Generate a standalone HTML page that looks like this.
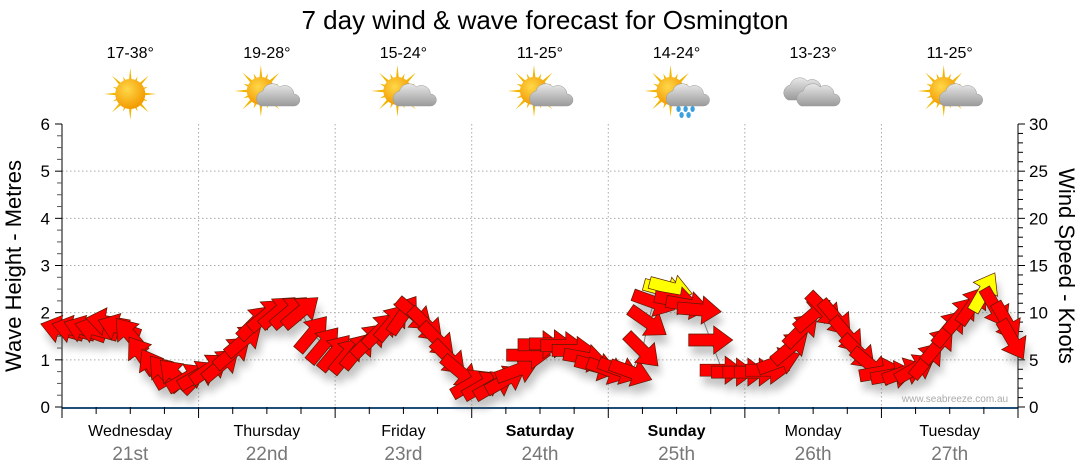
<!DOCTYPE html>
<html><head><meta charset="utf-8"><style>
html,body{margin:0;padding:0;background:#fff;}
svg{display:block;font-family:"Liberation Sans",sans-serif;}
</style></head><body>
<svg id="chart" width="1080" height="475" viewBox="0 0 1080 475">
<defs>
<radialGradient id="sunG" cx="40%" cy="35%" r="65%"><stop offset="0" stop-color="#ffd84a"/><stop offset="1" stop-color="#f39a00"/></radialGradient>
<linearGradient id="cloudG" x1="0" y1="0" x2="0" y2="1"><stop offset="0" stop-color="#e8e8e8"/><stop offset="1" stop-color="#9a9a9a"/></linearGradient>
<filter id="shadow" x="-50%" y="-50%" width="200%" height="200%"><feGaussianBlur stdDeviation="4"/></filter>
</defs>
<text x="545" y="29" text-anchor="middle" font-size="26" fill="#000">7 day wind &amp; wave forecast for Osmington</text>
<g id="grid"></g>
<g id="icons"></g>
<g id="axes"></g>
<g id="series"></g>
<text x="955" y="402" text-anchor="middle" font-size="10" fill="#aaa">www.seabreeze.com.au</text>
<text transform="translate(21,266) rotate(-90)" text-anchor="middle" font-size="22" fill="#000">Wave Height - Metres</text>
<text transform="translate(1059,266) rotate(90)" text-anchor="middle" font-size="22" fill="#000">Wind Speed - Knots</text>
</svg>
<script>
const days = ["Wednesday","Thursday","Friday","Saturday","Sunday","Monday","Tuesday"];
const dates = ["21st","22nd","23rd","24th","25th","26th","27th"];
const boldDays = [false,false,false,true,true,false,false];
const temps = ["17-38°","19-28°","15-24°","11-25°","14-24°","13-23°","11-25°"];
const weather = ["sun","suncloud","suncloud","suncloud","sunrain","cloud","suncloud"];
const waveTicks = [0,1,2,3,4,5,6];
const knotTicks = [0,5,10,15,20,25,30];
const hours = [0,2,4,6,8,10,12,14,16,18,20,22,24,26,28,30,32,34,36,38,40,42,44,46,48,50,52,54,56,58,60,62,64,66,68,70,72,74,76,78,80,82,84,86,88,90,92,94,96,98,100,102,103,104,106,107,108,110,112,114,116,118,120,122,124,126,128,130,132,134,136,138,140,142,144,146,148,150,152,154,156,158,160,162,164,166,167];
const speeds = [8.2,8.2,8.2,8.2,9.0,8.4,7.6,5.5,4.1,3.6,3.3,3.1,3.4,4.1,4.5,5.8,7.1,9.0,9.8,10.1,10.1,10.1,7.8,6.6,5.8,5.5,6.0,7.1,8.2,9.0,9.8,9.8,8.7,7.1,5.2,3.7,2.5,2.3,2.3,2.9,3.9,5.5,6.6,6.7,6.5,6.0,5.2,4.3,3.9,3.9,3.7,6.0,9.0,11.1,12.4,12.6,11.3,10.8,10.3,7.1,3.9,3.7,3.7,3.7,3.9,4.8,6.3,8.2,9.8,10.3,9.4,7.6,5.8,4.5,3.7,3.4,3.7,4.1,5.0,6.6,8.4,9.8,10.8,12.2,10.5,9.0,7.1];
const directions = [195,195,200,195,190,200,230,235,240,230,225,-30,-30,-35,-40,-40,-40,-45,-40,-40,-40,-40,-50,-50,-50,-50,-50,-45,-45,-50,-55,40,45,45,45,40,-30,-30,-30,-30,-20,0,0,0,0,0,10,15,20,20,20,45,35,20,15,15,10,10,5,0,0,0,0,0,0,-20,-40,-45,-40,45,50,50,45,40,-10,-10,-20,-30,-50,-50,-50,-50,-55,-60,60,60,60];

const NS='http://www.w3.org/2000/svg';
const X0=62,X1=1018,Y0=407,Y1=124;
const xH=h=>X0+(X1-X0)*h/168;
const yM=m=>Y0-(Y0-Y1)*m/6;
const yK=k=>Y0-(Y0-Y1)*k/30;
function mk(tag,attrs,parent){const e=document.createElementNS(NS,tag);for(const k in attrs)e.setAttribute(k,attrs[k]);parent.appendChild(e);return e;}
const grid=document.getElementById('grid'),axes=document.getElementById('axes'),icons=document.getElementById('icons'),series=document.getElementById('series');

for(let m=1;m<=5;m++){const l=mk('line',{x1:X0,x2:X1,y1:yM(m),y2:yM(m),stroke:'#aaa','stroke-dasharray':'1.5,2.5'},grid);

}
for(let d=1;d<7;d++){const l=mk('line',{x1:xH(d*24),x2:xH(d*24),y1:Y1,y2:Y0,stroke:'#aaa','stroke-dasharray':'1.5,2.5'},grid);

}

let a=mk('line',{x1:X0,x2:X0,y1:Y1,y2:Y0,stroke:'#000'},axes);


a=mk('line',{x1:X1,x2:X1,y1:Y1,y2:Y0,stroke:'#000'},axes);


a=mk('line',{x1:X0,x2:X1,y1:Y0+1,y2:Y0+1,stroke:'#1f4e79','stroke-width':2},axes);


for(let i=0;i<=24;i++){const m=i/4,maj=i%4===0;mk('line',{x1:X0-(maj?7:5),x2:X0,y1:yM(m),y2:yM(m),stroke:maj?'#000':'#555'},axes);}
waveTicks.forEach(m=>{const t=mk('text',{x:X0-12,y:yM(m)+6,'text-anchor':'end','font-size':17},axes);t.textContent=m;

});
for(let k=0;k<=30;k++){const maj=k%5===0;mk('line',{x1:X1,x2:X1+(maj?7:5),y1:yK(k),y2:yK(k),stroke:'#000'},axes);}
knotTicks.forEach(k=>{const t=mk('text',{x:X1+11,y:yK(k)+6,'font-size':17},axes);t.textContent=k;

});
for(let h=0;h<=168;h+=6){const maj=h%24===0;mk('line',{x1:xH(h),x2:xH(h),y1:Y0,y2:Y0+(maj?11:7),stroke:'#000'},axes);}
days.forEach((d,i)=>{const cx=xH(i*24+12);
const t=mk('text',{x:cx,y:436,'text-anchor':'middle','font-size':16,'font-weight':boldDays[i]?'bold':'normal'},axes);t.textContent=d;


const t2=mk('text',{x:cx,y:460,'text-anchor':'middle','font-size':19,fill:'#777'},axes);t2.textContent=dates[i];


const t3=mk('text',{x:cx,y:58,'text-anchor':'middle','font-size':16},icons);t3.textContent=temps[i];


const g=mk('g',{transform:`translate(${cx},94)`},icons);


const w=weather[i];
if(w!=='cloud'){const sx=w==='sun'?0:-6,sy=w==='sun'?0:-3;
for(let r=0;r<16;r++){const an=r*Math.PI/8,L=r%2?19:26;
mk('polygon',{points:`${sx+Math.cos(an-0.15)*11},${sy+Math.sin(an-0.15)*11} ${sx+Math.cos(an)*L},${sy+Math.sin(an)*L} ${sx+Math.cos(an+0.15)*11},${sy+Math.sin(an+0.15)*11}`,fill:'#f2b600'},g);}
mk('circle',{cx:sx,cy:sy,r:w==='sun'?15:14,fill:'url(#sunG)'},g);}
const cloud=(ox,oy)=>{mk('path',{d:`M${ox-16},${oy+10} a8,8 0 0 1 2,-15 a10,10 0 0 1 17,-4 a9,9 0 0 1 14,7 a6,6 0 0 1 0,12 z`,fill:'url(#cloudG)',stroke:'#999','stroke-width':0.5},g);};
if(w==='cloud'){cloud(-9,-4);cloud(4,2);}
else if(w!=='sun'){cloud(10,2);}
if(w==='sunrain'){[[2,15],[9,15],[16,15],[5,21],[12,21]].forEach(p=>mk('ellipse',{cx:p[0],cy:p[1],rx:2.2,ry:3,fill:'#3aa0e0'},g));}
});

let pts=hours.map((h,i)=>xH(h)+','+yK(speeds[i])).join(' ');
const pl=mk('polyline',{points:pts,fill:'none',stroke:'#888','stroke-width':1},series);


const arrowPath='M-22,-6 L3,-6 L3,-14 L22,0 L3,14 L3,6 L-22,6 Z';
const sh=mk('g',{filter:'url(#shadow)',opacity:0.35},series);
hours.forEach((h,i)=>{mk('path',{d:arrowPath,fill:'#555',transform:`translate(${xH(h)+3},${yK(speeds[i])+9}) rotate(${directions[i]})`},sh);});
hours.forEach((h,i)=>{const p=mk('path',{d:arrowPath,fill:speeds[i]>=12?'#ffff00':'#ff0000',stroke:'#5a1a00','stroke-width':0.7,transform:`translate(${xH(h)},${yK(speeds[i])}) rotate(${directions[i]})`},series);

});
</script>
</body></html>
